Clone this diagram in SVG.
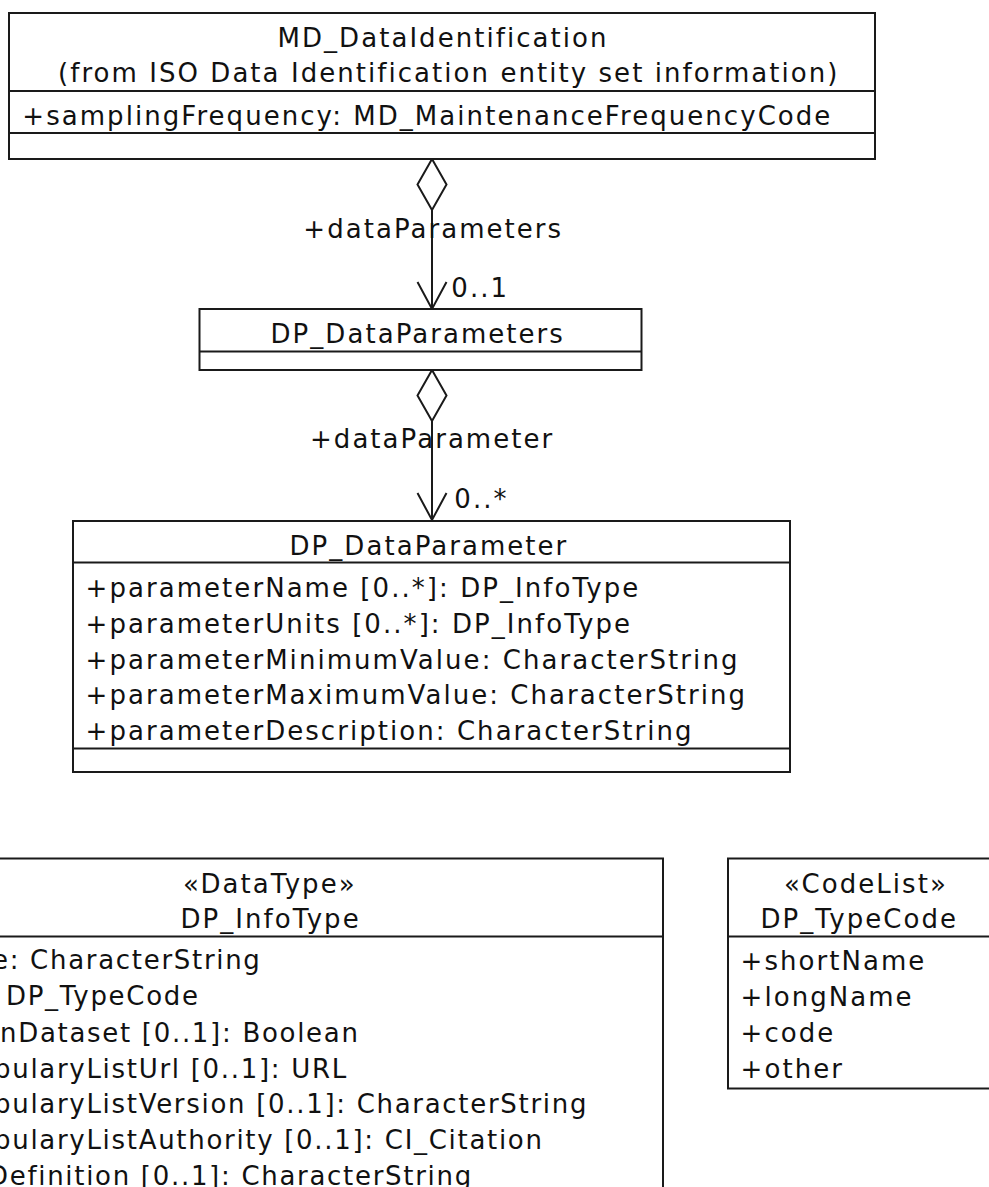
<svg xmlns="http://www.w3.org/2000/svg" width="989" height="1187" viewBox="0 0 989 1187">
<style>
.t { font-family: "DejaVu Sans", "Liberation Sans", sans-serif; font-size: 26px; letter-spacing: 2.05px; fill: #111; }
.n { letter-spacing: 1.7px; }
.box { fill: #fff; stroke: #1a1a1a; stroke-width: 2; }
.div { stroke: #1a1a1a; stroke-width: 2; fill: none; }
.ln { stroke: #1a1a1a; stroke-width: 2; fill: none; marker-start: url(#diamond); marker-end: url(#openArrow); }
</style>
<defs>
<marker id="diamond" markerUnits="userSpaceOnUse" markerWidth="60" markerHeight="40" refX="0" refY="0" orient="auto" overflow="visible">
<path d="M0,0 L25.5,-14.5 L51,0 L25.5,14.5 Z" fill="#fff" stroke="#1a1a1a" stroke-width="2"/>
</marker>
<marker id="openArrow" markerUnits="userSpaceOnUse" markerWidth="40" markerHeight="40" refX="0" refY="0" orient="auto" overflow="visible">
<path d="M-27,-14.5 L0,0 L-27,14.5" fill="none" stroke="#1a1a1a" stroke-width="2"/>
</marker>
</defs>
<rect width="989" height="1187" fill="#fff"/>

<g id="connectors">
<path class="ln" d="M432,159 L432,309"/>
<text class="t" x="303.3" y="238">+dataParameters</text>
<text class="t" x="451.3" y="297">0..1</text>
<path class="ln" d="M432,370 L432,520"/>
<text class="t" x="310" y="448">+dataParameter</text>
<text class="t" x="454.3" y="508">0..*</text>
</g>

<g id="MD_DataIdentification">
<rect class="box" x="9" y="13" width="866" height="146"/>
<line class="div" x1="9" y1="91" x2="875" y2="91"/>
<line class="div" x1="9" y1="133" x2="875" y2="133"/>
<text class="t" x="277.5" y="47">MD_DataIdentification</text>
<text class="t" x="58" y="82">(from ISO Data Identification entity set information)</text>
<text class="t" x="22.3" y="125">+samplingFrequency: MD_MaintenanceFrequencyCode</text>
</g>

<g id="DP_DataParameters">
<rect class="box" x="199.5" y="309" width="442" height="61"/>
<line class="div" x1="199.5" y1="351.5" x2="641.5" y2="351.5"/>
<text class="t" x="270.5" y="343">DP_DataParameters</text>
</g>

<g id="DP_DataParameter">
<rect class="box" x="73" y="521" width="717" height="251"/>
<line class="div" x1="73" y1="562.5" x2="790" y2="562.5"/>
<line class="div" x1="73" y1="748.5" x2="790" y2="748.5"/>
<text class="t" x="289.5" y="555">DP_DataParameter</text>
<text class="t" x="85.6" y="597">+parameterName [0..*]: DP_InfoType</text>
<text class="t" x="85.6" y="632.5">+parameterUnits [0..*]: DP_InfoType</text>
<text class="t" x="85.6" y="668.5">+parameterMinimumValue: CharacterString</text>
<text class="t" x="85.6" y="704">+parameterMaximumValue: CharacterString</text>
<text class="t" x="85.6" y="740">+parameterDescription: CharacterString</text>
</g>

<g id="DP_InfoType">
<rect class="box" x="-117" y="858.5" width="780" height="420"/>
<line class="div" x1="-117" y1="936.5" x2="663" y2="936.5"/>
<text class="t" x="183" y="893">«DataType»</text>
<text class="t" x="180.5" y="928">DP_InfoType</text>
<text class="t n" x="-8" y="968.5">e: CharacterString</text>
<text class="t n" x="6" y="1005">DP_TypeCode</text>
<text class="t n" x="0" y="1041.5">nDataset [0..1]: Boolean</text>
<text class="t n" x="-6" y="1077.5">bularyListUrl [0..1]: URL</text>
<text class="t n" x="-6" y="1113">bularyListVersion [0..1]: CharacterString</text>
<text class="t n" x="-6" y="1148.5">bularyListAuthority [0..1]: CI_Citation</text>
<text class="t n" x="-12" y="1185">Definition [0..1]: CharacterString</text>
</g>

<g id="DP_TypeCode">
<rect class="box" x="728" y="858.5" width="274" height="230"/>
<line class="div" x1="728" y1="936.5" x2="1002" y2="936.5"/>
<text class="t" x="784" y="893">«CodeList»</text>
<text class="t" x="760.5" y="928">DP_TypeCode</text>
<text class="t" x="740.6" y="970">+shortName</text>
<text class="t" x="740.6" y="1006">+longName</text>
<text class="t" x="740.6" y="1042">+code</text>
<text class="t" x="740.6" y="1078">+other</text>
</g>
</svg>
